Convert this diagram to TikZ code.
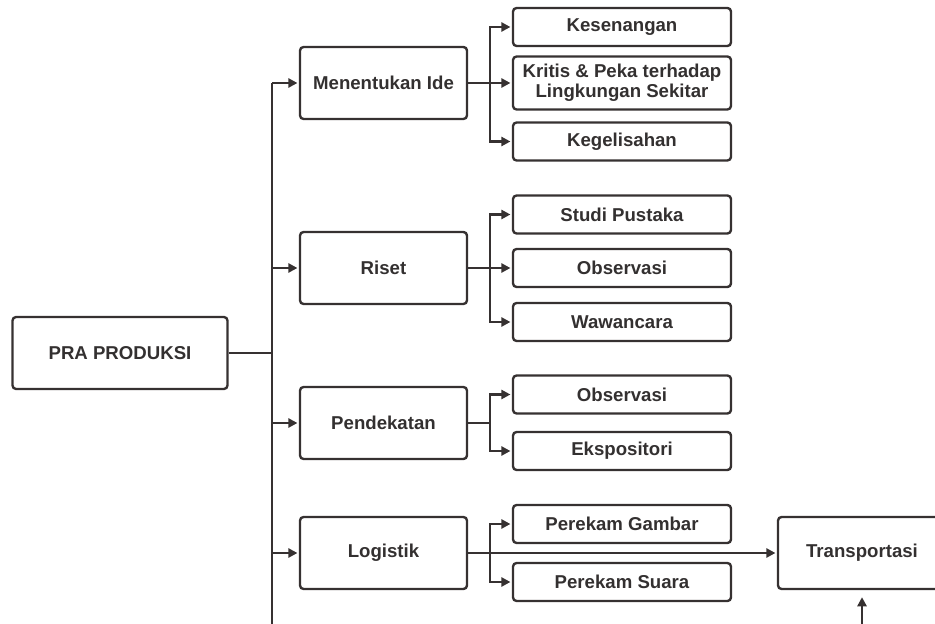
\documentclass[tikz,border=0pt]{standalone}
\usepackage{fontspec}
\setmainfont{Liberation Sans}
\usetikzlibrary{arrows.meta}
\definecolor{linegray}{HTML}{363131}
\definecolor{textgray}{HTML}{333030}
\tikzset{
	box/.style={draw=linegray, line width=1.35pt, rounded corners=2pt, inner sep=0pt, text=textgray, align=center, font=\bfseries\fontsize{10.6}{11.6}\selectfont},
	mainbox/.style={box, minimum width=3.34cm, minimum height=1.44cm},
	subbox/.style={box, minimum width=4.36cm, minimum height=0.76cm},
	link/.style={draw=linegray, line width=1.35pt},
	linkarrow/.style={link, -{Triangle[length=5.2pt, width=5.2pt]}, shorten >=0.8pt}
}

\begin{document}
\begin{tikzpicture}[x=0.02cm, y=-0.02cm]
	%%%%% START %%%%%
	\clip (0, 0) rectangle (935, 624);
	
	\node[mainbox, minimum width=4.3cm] (pra) at (120, 353) {PRA PRODUKSI};
	
	\node[mainbox] (ide) at (383.5, 83) {Menentukan Ide};
	\node[mainbox] (riset) at (383.5, 268) {Riset};
	\node[mainbox] (pendekatan) at (383.5, 423) {Pendekatan};
	\node[mainbox] (logistik) at (383.5, 553) {Logistik};
	
	\node[subbox] (kesenangan) at (622, 27) {Kesenangan};
	\node[subbox, minimum height=1.06cm] (kritis) at (622, 83) {Kritis \& Peka terhadap\\Lingkungan Sekitar};
	\node[subbox] (kegelisahan) at (622, 141.5) {Kegelisahan};
	
	\node[subbox] (studi) at (622, 214.5) {Studi Pustaka};
	\node[subbox] (observasiA) at (622, 268) {Observasi};
	\node[subbox] (wawancara) at (622, 322) {Wawancara};
	
	\node[subbox] (observasiB) at (622, 394.5) {Observasi};
	\node[subbox] (ekspositori) at (622, 451) {Ekspositori};
	
	\node[subbox] (gambar) at (622, 524) {Perekam Gambar};
	\node[subbox] (suara) at (622, 582) {Perekam Suara};
	
	\node[mainbox, minimum width=3.36cm] (transportasi) at (862, 553) {Transportasi};
	
	% trunk
	\coordinate (trunktop) at (272, 83);
	\coordinate (trunkbot) at (272, 624);
	\coordinate (branch) at (490, 0);
	\coordinate (transin) at (862, 624);
	
	\draw[link] (trunktop) -- (trunkbot);
	\draw[link] (pra.east) -- (pra.east -| trunktop);
	\draw[linkarrow] (trunktop) -- (ide.west);
	\draw[linkarrow] (riset.west -| trunktop) -- (riset.west);
	\draw[linkarrow] (pendekatan.west -| trunktop) -- (pendekatan.west);
	\draw[linkarrow] (logistik.west -| trunktop) -- (logistik.west);
	
	% menentukan ide
	\draw[linkarrow] (ide.east) -- (kritis.west);
	\draw[linkarrow] (kritis.west -| branch) |- (kesenangan.west);
	\draw[linkarrow] (kritis.west -| branch) |- (kegelisahan.west);
	
	% riset
	\draw[linkarrow] (riset.east) -- (observasiA.west);
	\draw[linkarrow] (riset.east -| branch) |- (studi.west);
	\draw[linkarrow] (riset.east -| branch) |- (wawancara.west);
	
	% pendekatan
	\draw[link] (pendekatan.east) -- (pendekatan.east -| branch);
	\draw[linkarrow] (pendekatan.east -| branch) |- (observasiB.west);
	\draw[linkarrow] (pendekatan.east -| branch) |- (ekspositori.west);
	
	% logistik
	\draw[linkarrow] (logistik.east) -- (transportasi.west);
	\draw[linkarrow] (logistik.east -| branch) |- (gambar.west);
	\draw[linkarrow] (logistik.east -| branch) |- (suara.west);
	
	\draw[linkarrow, shorten >=4pt] (transin) -- (transportasi.south);
	%%%%% END %%%%%
\end{tikzpicture}
\end{document}
